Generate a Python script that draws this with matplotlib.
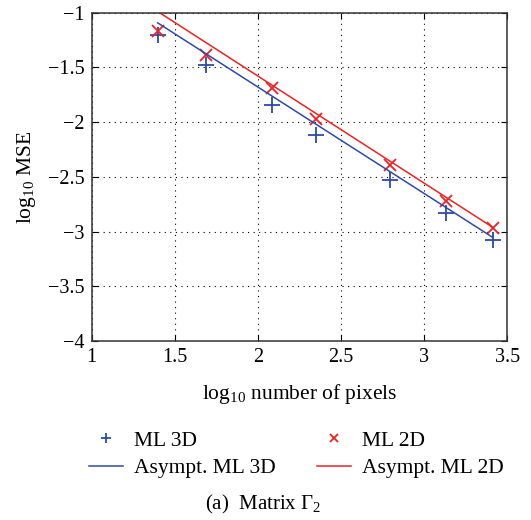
import numpy as np
import matplotlib
matplotlib.use("Agg")
import matplotlib.pyplot as plt

# log10 number of pixels
x_pix = [1.397, 1.688, 2.083, 2.351, 2.795, 3.132, 3.413]
# log10 MSE, estimated from the figure
mse_ml3d = [-1.203, -1.476, -1.846, -2.121, -2.530, -2.833, -3.075]
mse_ml2d = [-1.163, -1.385, -1.687, -1.975, -2.391, -2.718, -2.969]
# asymptotic curves (end points)
x_asym = [1.397, 3.413]
asym_ml3d = [-1.093, -3.054]
asym_ml2d = [-0.989, -2.962]

xticks = [1, 1.5, 2, 2.5, 3, 3.5]
yticks = [-4, -3.5, -3, -2.5, -2, -1.5, -1]

blue = "#2B4BAA"
red = "#EE2222"


def main():
    plt.rcParams["font.family"] = ["Liberation Serif", "DejaVu Serif"]
    plt.rcParams["mathtext.fontset"] = "custom"
    plt.rcParams["mathtext.rm"] = "Liberation Serif"
    plt.rcParams["mathtext.it"] = "Liberation Serif:italic"

    fig = plt.figure(figsize=(5.31, 5.2), dpi=100, facecolor="w")
    ax = fig.add_axes([0.1727, 0.3442, 0.7827, 0.6314])

    h1, = ax.plot(x_pix, mse_ml3d, "+", color=blue, markersize=11,
                  markeredgewidth=1.3, label="ML 3D")
    h2, = ax.plot(x_pix, mse_ml2d, "x", color=red, markersize=9,
                  markeredgewidth=1.3, label="ML 2D")
    h3, = ax.plot(x_asym, asym_ml3d, "-", color=blue, linewidth=1.1,
                  label="Asympt. ML 3D")
    h4, = ax.plot(x_asym, asym_ml2d, "-", color=red, linewidth=1.1,
                  label="Asympt. ML 2D")

    ax.set_xlim(1, 3.5)
    ax.set_ylim(-4, -1)
    ax.set_xticks(xticks)
    ax.set_xticklabels(["1", "1.5", "2", "2.5", "3", "3.5"])
    ax.set_yticks(yticks)
    ax.set_yticklabels(["\u22124", "\u22123.5", "\u22123", "\u22122.5",
                        "\u22122", "\u22121.5", "\u22121"])
    ax.tick_params(direction="in", top=True, right=True, labelsize=14.5,
                   length=4, width=0.8, pad=5)
    ax.grid(True, linestyle=(0, (1, 4)), color="k", linewidth=0.8)
    for s in ax.spines.values():
        s.set_linewidth(1.1)
        s.set_color("#333333")

    ax.set_xlabel(r"log$_{10}$ number of pixels", fontsize=15.5, labelpad=11)
    ax.set_ylabel(r"log$_{10}$ MSE", fontsize=15.5, labelpad=7)

    fig.legend([h1, h3, h2, h4],
               ["ML 3D", "Asympt. ML 3D", "ML 2D", "Asympt. ML 2D"],
               ncol=2, frameon=False, fontsize=15.5, loc="upper left",
               bbox_to_anchor=(0.167, 0.172), borderpad=0, borderaxespad=0,
               columnspacing=1.9, markerscale=0.7,
               handlelength=1.6, handletextpad=0.5, labelspacing=0.35)

    fig.text(0.495, 0.03, r"(a)  Matrix $\Gamma_2$", fontsize=15,
             ha="center", va="center")

    fig.savefig("out.png", dpi=100)
    plt.close(fig)


if __name__ == "__main__":
    main()
